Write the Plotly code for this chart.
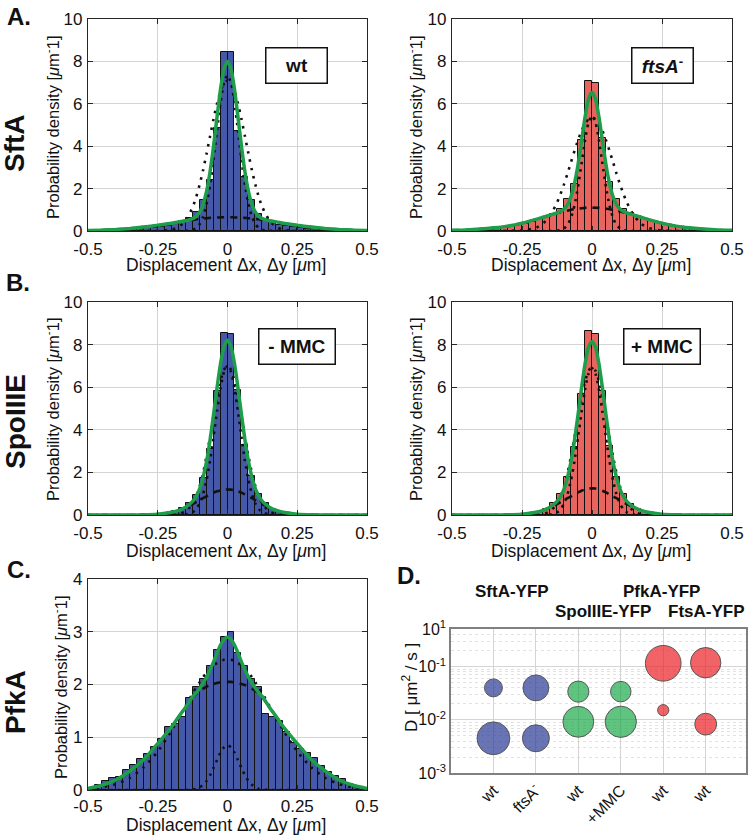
import plotly.graph_objects as go

# ---------------- data ----------------
BIN_CENTERS = [-0.4875, -0.4625, -0.4375, -0.4125, -0.3875, -0.3625, -0.3375, -0.3125,
               -0.2875, -0.2625, -0.2375, -0.2125, -0.1875, -0.1625, -0.1375, -0.1125,
               -0.0875, -0.0625, -0.0375, -0.0125, 0.0125, 0.0375, 0.0625, 0.0875,
               0.1125, 0.1375, 0.1625, 0.1875, 0.2125, 0.2375, 0.2625, 0.2875,
               0.3125, 0.3375, 0.3625, 0.3875, 0.4125, 0.4375, 0.4625, 0.4875]

SFTA_WT_HIST = [0.02, 0.02, 0.03, 0.04, 0.05, 0.06, 0.08, 0.10, 0.12, 0.16, 0.20, 0.25, 0.32, 0.45, 0.62, 0.90, 1.45, 2.40, 4.85, 8.45,
                8.45, 4.72, 2.55, 1.46, 0.82, 0.55, 0.42, 0.30, 0.24, 0.19, 0.15, 0.11, 0.09, 0.07, 0.05, 0.04, 0.03, 0.02, 0.02, 0.01]
SFTA_FTSA_HIST = [0.04, 0.05, 0.06, 0.08, 0.10, 0.12, 0.15, 0.19, 0.23, 0.28, 0.34, 0.42, 0.55, 0.68, 0.82, 1.02, 1.50, 2.20, 4.30, 7.09,
                  7.00, 4.40, 2.30, 1.52, 1.05, 0.85, 0.70, 0.56, 0.45, 0.36, 0.29, 0.24, 0.19, 0.15, 0.12, 0.10, 0.08, 0.06, 0.05, 0.04]
SPO_MINUS_HIST = [0, 0, 0, 0, 0, 0, 0, 0.005, 0.01, 0.02, 0.05, 0.09, 0.17, 0.32, 0.55, 0.95, 1.75, 3.10, 5.80, 8.53,
                  8.48, 5.85, 3.30, 1.85, 1.00, 0.55, 0.30, 0.16, 0.09, 0.05, 0.03, 0.015, 0.01, 0, 0, 0, 0, 0, 0, 0]
SPO_PLUS_HIST = [0, 0, 0, 0, 0, 0, 0, 0.005, 0.01, 0.02, 0.04, 0.08, 0.16, 0.30, 0.55, 0.98, 1.80, 3.20, 5.70, 8.65,
                 8.48, 5.80, 3.25, 1.80, 0.98, 0.52, 0.28, 0.15, 0.08, 0.04, 0.02, 0.01, 0.005, 0, 0, 0, 0, 0, 0, 0]
PFKA_HIST = [0.04, 0.10, 0.18, 0.22, 0.25, 0.38, 0.48, 0.58, 0.68, 0.82, 0.97, 1.20, 1.25, 1.38, 1.75, 1.95, 2.10, 2.35, 2.65, 2.91,
             3.00, 2.60, 2.35, 2.10, 1.95, 1.45, 1.38, 1.30, 1.10, 0.90, 0.78, 0.71, 0.60, 0.45, 0.35, 0.27, 0.20, 0.12, 0.07, 0.04]

# fitted curves, read at |x| (symmetric about 0)
FIT_X_HALF = [0, 0.0125, 0.025, 0.0375, 0.05, 0.0625, 0.075, 0.0875, 0.1, 0.1125,
              0.125, 0.15, 0.175, 0.2, 0.25, 0.3, 0.35, 0.4, 0.45, 0.5]

SFTA_WT_TOTAL = [8.0, 7.65, 6.69, 5.38, 4.0, 2.79, 1.87, 1.26, 0.89, 0.69, 0.58, 0.48, 0.43, 0.37, 0.27, 0.19, 0.12, 0.07, 0.04, 0.02]
SFTA_WT_SLOW = [7.35, 7.0, 6.05, 4.74, 3.37, 2.17, 1.27, 0.67, 0.32, 0.14, 0.06, 0.01, 0, 0, 0, 0, 0, 0, 0, 0]
SFTA_WT_FAST = [0.65, 0.65, 0.64, 0.64, 0.63, 0.62, 0.60, 0.59, 0.57, 0.55, 0.52, 0.48, 0.43, 0.37, 0.27, 0.19, 0.12, 0.07, 0.04, 0.02]
SFTA_WT_SINGLE = [7.1, 6.97, 6.59, 6.01, 5.28, 4.47, 3.65, 2.87, 2.18, 1.59, 1.12, 0.50, 0.19, 0.06, 0, 0, 0, 0, 0, 0]

SFTA_FTSA_TOTAL = [6.54, 6.22, 5.36, 4.23, 3.12, 2.24, 1.62, 1.24, 1.04, 0.92, 0.85, 0.75, 0.65, 0.55, 0.37, 0.23, 0.15, 0.09, 0.05, 0.03]
SFTA_FTSA_SLOW = [5.44, 5.12, 4.27, 3.16, 2.07, 1.21, 0.62, 0.28, 0.12, 0.04, 0.01, 0, 0, 0, 0, 0, 0, 0, 0, 0]
SFTA_FTSA_FAST = [1.1, 1.1, 1.09, 1.07, 1.05, 1.03, 1.0, 0.96, 0.93, 0.88, 0.84, 0.75, 0.65, 0.55, 0.37, 0.23, 0.15, 0.09, 0.05, 0.03]
SFTA_FTSA_SINGLE = [5.35, 5.28, 5.06, 4.72, 4.28, 3.78, 3.25, 2.71, 2.2, 1.74, 1.33, 0.72, 0.35, 0.15, 0.02, 0, 0, 0, 0, 0]

SPO_MINUS_TOTAL = [8.2, 7.92, 7.11, 5.97, 4.72, 3.52, 2.52, 1.77, 1.23, 0.87, 0.64, 0.37, 0.22, 0.13, 0.04, 0.01, 0, 0, 0, 0]
SPO_MINUS_SLOW = [7.0, 6.72, 5.95, 4.86, 3.67, 2.55, 1.64, 0.98, 0.54, 0.27, 0.13, 0.02, 0, 0, 0, 0, 0, 0, 0, 0]
SPO_MINUS_FAST = [1.2, 1.19, 1.16, 1.11, 1.05, 0.97, 0.88, 0.79, 0.69, 0.6, 0.51, 0.35, 0.22, 0.13, 0.04, 0.01, 0, 0, 0, 0]
SPO_MINUS_SINGLE = [7.0, 6.82, 6.31, 5.55, 4.63, 3.67, 2.76, 1.97, 1.34, 0.86, 0.53, 0.17, 0.04, 0.01, 0, 0, 0, 0, 0, 0]

SPO_PLUS_TOTAL = [8.15, 7.88, 7.08, 5.95, 4.7, 3.5, 2.5, 1.76, 1.22, 0.86, 0.63, 0.37, 0.22, 0.13, 0.04, 0.01, 0, 0, 0, 0]
SPO_PLUS_SLOW = [6.9, 6.63, 5.88, 4.81, 3.64, 2.53, 1.63, 0.97, 0.53, 0.26, 0.12, 0.02, 0, 0, 0, 0, 0, 0, 0, 0]
SPO_PLUS_FAST = [1.25, 1.24, 1.2, 1.14, 1.06, 0.97, 0.87, 0.79, 0.69, 0.6, 0.51, 0.35, 0.22, 0.13, 0.04, 0.01, 0, 0, 0, 0]
SPO_PLUS_SINGLE = [6.95, 6.77, 6.27, 5.52, 4.61, 3.66, 2.75, 1.97, 1.34, 0.86, 0.53, 0.17, 0.04, 0.01, 0, 0, 0, 0, 0, 0]

PFKA_TOTAL = [2.9, 2.86, 2.75, 2.6, 2.43, 2.28, 2.14, 2.03, 1.93, 1.84, 1.77, 1.57, 1.39, 1.2, 0.88, 0.58, 0.36, 0.19, 0.09, 0.03]
PFKA_SLOW = [0.85, 0.81, 0.71, 0.57, 0.42, 0.28, 0.17, 0.1, 0.05, 0.02, 0.01, 0, 0, 0, 0, 0, 0, 0, 0, 0]
PFKA_FAST = [2.05, 2.05, 2.04, 2.03, 2.01, 1.99, 1.96, 1.92, 1.88, 1.82, 1.76, 1.57, 1.39, 1.2, 0.87, 0.57, 0.35, 0.18, 0.08, 0.03]
PFKA_SINGLE = [2.48, 2.47, 2.45, 2.41, 2.36, 2.30, 2.22, 2.14, 2.04, 1.94, 1.83, 1.60, 1.36, 1.13, 0.73, 0.43, 0.23, 0.11, 0.05, 0.02]

# panel D
D_CATEGORY_POS = [1, 2, 3, 4, 5, 6]
D_CATEGORY_LABELS = ["wt", "ftsA<sup>-</sup>", "wt", "+MMC", "wt", "wt"]
D_SFTA_X = [1, 1, 2, 2]
D_SFTA_D = [0.040, 0.0045, 0.040, 0.0045]
D_SFTA_FRAC = [0.23, 0.77, 0.48, 0.52]
D_SPO_X = [3, 3, 4, 4]
D_SPO_D = [0.034, 0.0092, 0.034, 0.0092]
D_SPO_FRAC = [0.32, 0.68, 0.30, 0.70]
D_RED_X = [5, 5, 6, 6]
D_RED_D = [0.116, 0.0152, 0.119, 0.0083]
D_RED_FRAC = [0.91, 0.09, 0.66, 0.34]

# ---------------- styling ----------------
FONT = "Liberation Sans, Arial, Helvetica, sans-serif"
BLUE_BAR = "#4659A8"
RED_BAR = "#E8645F"
GREEN = "#1E9E4A"
INK = "#262626"
GRID = "#d4d4d4"
W, H = 750, 835


def px(x):
    return x / W


def py(y):
    return 1 - y / H


def mirror(half):
    xs = [-v for v in reversed(FIT_X_HALF[1:])] + FIT_X_HALF
    ys = list(reversed(half[1:])) + list(half)
    return xs, ys


fig = go.Figure()

panels = [
    ("", SFTA_WT_HIST, BLUE_BAR, SFTA_WT_TOTAL, SFTA_WT_SLOW, SFTA_WT_FAST, SFTA_WT_SINGLE, (88, 367), (19, 231), 10, 2, 2),
    ("2", SFTA_FTSA_HIST, RED_BAR, SFTA_FTSA_TOTAL, SFTA_FTSA_SLOW, SFTA_FTSA_FAST, SFTA_FTSA_SINGLE, (452, 732), (19, 231), 10, 2, 2),
    ("3", SPO_MINUS_HIST, BLUE_BAR, SPO_MINUS_TOTAL, SPO_MINUS_SLOW, SPO_MINUS_FAST, SPO_MINUS_SINGLE, (88, 367), (302, 515), 10, 2, 2),
    ("4", SPO_PLUS_HIST, RED_BAR, SPO_PLUS_TOTAL, SPO_PLUS_SLOW, SPO_PLUS_FAST, SPO_PLUS_SINGLE, (452, 732), (302, 515), 10, 2, 2),
    ("5", PFKA_HIST, BLUE_BAR, PFKA_TOTAL, PFKA_SLOW, PFKA_FAST, PFKA_SINGLE, (88, 367), (579, 790), 4, 1, 0),
]

for suf, hist, col, total, slow, fast, single, xd, yd, ymax, dt, xstand in panels:
    xa, ya = "x" + suf, "y" + suf
    fig.add_trace(go.Bar(x=BIN_CENTERS, y=hist, width=0.025, xaxis=xa, yaxis=ya,
                         marker=dict(color=col, line=dict(color="#111111", width=1)),
                         showlegend=False, hoverinfo="skip"))
    for curve, dash, lw in ((single, "2.5px,6px", 2.6), (fast, "7px,6px", 2.6), (slow, "2.5px,5px", 2.6)):
        cx, cy = mirror(curve)
        fig.add_trace(go.Scatter(x=cx, y=cy, xaxis=xa, yaxis=ya, mode="lines",
                                 line=dict(color="#111111", width=lw, dash=dash, shape="spline", smoothing=0.6),
                                 showlegend=False, hoverinfo="skip"))
    cx, cy = mirror(total)
    fig.add_trace(go.Scatter(x=cx, y=cy, xaxis=xa, yaxis=ya, mode="lines",
                             line=dict(color=GREEN, width=3.5, shape="spline", smoothing=0.6),
                             showlegend=False, hoverinfo="skip"))
    axis_common = dict(showgrid=True, gridcolor=GRID, gridwidth=1, zeroline=False,
                       showline=True, linecolor=INK, linewidth=1.3, mirror="ticks",
                       ticks="inside", ticklen=5, tickcolor=INK, automargin=False,
                       tickfont=dict(family=FONT, size=17, color="#111111"))
    fig.layout["xaxis" + suf] = dict(domain=[px(xd[0]), px(xd[1])], anchor=ya, range=[-0.5, 0.5],
                                     tickvals=[-0.5, -0.25, 0, 0.25, 0.5], ticklabelstandoff=xstand,
                                     ticktext=["-0.5", "-0.25", "0", "0.25", "0.5"], **axis_common)
    fig.layout["yaxis" + suf] = dict(domain=[py(yd[1]), py(yd[0])], anchor=xa, range=[0, ymax],
                                     dtick=dt, ticklabelstandoff=1, **axis_common)

# panel D bubbles
SIZEREF = 0.00143
for xs, ds, fr, col in ((D_SFTA_X, D_SFTA_D, D_SFTA_FRAC, "#2B3A97"),
                        (D_SPO_X, D_SPO_D, D_SPO_FRAC, "#1DAA4A"),
                        (D_RED_X, D_RED_D, D_RED_FRAC, "#EC2227")):
    fig.add_trace(go.Scatter(x=xs, y=ds, xaxis="x6", yaxis="y6", mode="markers",
                             marker=dict(size=fr, sizemode="area", sizeref=SIZEREF, color=col,
                                         line=dict(color="#111111", width=1)),
                             showlegend=False, hoverinfo="skip"))

fig.layout["xaxis6"] = dict(domain=[px(451), px(746)], anchor="y6", range=[0.0, 6.95],
                            tickvals=D_CATEGORY_POS, ticktext=D_CATEGORY_LABELS, tickangle=-45,
                            showgrid=True, gridcolor=GRID, zeroline=False, automargin=False,
                            showline=True, linecolor="#808080", linewidth=1.5, mirror=True,
                            ticks="", tickfont=dict(family=FONT, size=16, color="#111111"))
fig.layout["yaxis6"] = dict(domain=[py(773), py(629)], anchor="x6", type="log", range=[-3, -0.29],
                            tickvals=[0.001, 0.01, 0.1, 10 ** -0.29],
                            ticktext=["10<sup>-3</sup>", "10<sup>-2</sup>", "10<sup>-1</sup>", "10<sup>1</sup>"],
                            showgrid=True, gridcolor=GRID, zeroline=False, automargin=False,
                            minor=dict(showgrid=True, gridcolor="#e2e2e2", griddash="dot", dtick="D1"),
                            showline=True, linecolor="#808080", linewidth=1.5, mirror=True,
                            ticks="", tickfont=dict(family=FONT, size=16, color="#111111"))

# ---------------- text ----------------
ann = []


def text(x, y, s, size, angle=0, **kw):
    ann.append(dict(x=px(x), y=py(y), xref="paper", yref="paper", text=s, showarrow=False,
                    textangle=angle, xanchor="center", yanchor="middle",
                    font=dict(family=FONT, size=size, color="#111111"), **kw))


YT = "Probability density [<i>μ</i>m<sup>-</sup>1]"
XT = "Displacement Δx, Δy [<i>μ</i>m]"
for (x, y) in ((52, 127), (415, 127), (52, 409), (415, 409), (60, 687)):
    text(x, y, YT, 16.5, angle=-90)
for (x, y) in ((226, 265), (591, 265), (226, 551), (591, 551), (226, 825)):
    text(x, y, XT, 17.5)

for (x, y, s) in ((19, 17, "A."), (18, 282, "B."), (19, 569, "C."), (409, 575, "D.")):
    text(x, y, "<b>" + s + "</b>", 24)
for (x, y, s) in ((15, 143, "SftA"), (15, 422, "SpoIIIE"), (15, 702, "PfkA")):
    text(x, y, "<b>" + s + "</b>", 28, angle=-90)

for (x, y, s, w) in ((296.5, 65.5, "<b>wt</b>", 60), (662.5, 65.5, "<b><i>ftsA</i><sup>-</sup></b>", 60),
                     (297, 346.5, "<b>- MMC</b>", 75), (662, 346.5, "<b>+ MMC</b>", 75)):
    text(x, y, s, 19, bordercolor="#111111", borderwidth=1.5, borderpad=0,
         bgcolor="white", width=w, height=34)

for (x, y, s) in ((512, 591, "SftA-YFP"), (661, 591, "PfkA-YFP"), (603, 611, "SpoIIIE-YFP"), (706, 611, "FtsA-YFP")):
    text(x, y, "<b>" + s + "</b>", 17)
text(410, 688, "D [ μm<sup>2</sup> / s ]", 17, angle=-90)

fig.update_layout(width=W, height=H, margin=dict(l=0, r=0, t=0, b=0, autoexpand=False),
                  paper_bgcolor="white", plot_bgcolor="white",
                  barmode="overlay", bargap=0, annotations=ann, showlegend=False,
                  font=dict(family=FONT))

# let the figure start at the window's top-left corner (remove the default body margin)
fig.write_html("out.html", config={"displayModeBar": False},
               post_script="document.body.style.margin='0';document.body.style.padding='0';"
                           "document.body.style.overflow='hidden';")
